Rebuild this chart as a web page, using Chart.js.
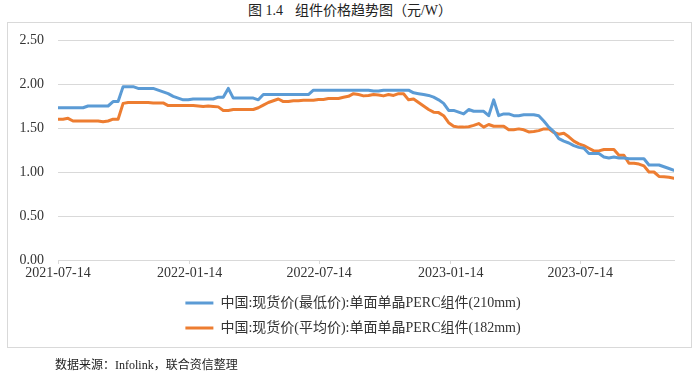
<!DOCTYPE html>
<html>
<head>
<meta charset="utf-8">
<script src="https://cdn.jsdelivr.net/npm/chart.js@4.4.1/dist/chart.umd.min.js"></script>
<style>
  html, body { margin: 0; padding: 0; background: #fff; }
  body { width: 700px; height: 375px; position: relative; overflow: hidden; }
  #title { position: absolute; left: 0; top: 3px; width: 700px; text-align: center;
           font: 14px 'Liberation Serif', 'Noto Sans CJK SC', serif; color: #222; line-height: 16px; }
  #title .gap { display: inline-block; width: 12px; }
  #frame { position: absolute; left: 7px; top: 22px; width: 685px; height: 326px;
           box-sizing: border-box; border: 1px solid #d9d9d9; }
  #wrap { position: absolute; left: 0; top: 0; width: 700px; height: 375px; }
  #source { position: absolute; left: 55px; top: 358px; font: 12px 'Liberation Serif', 'Noto Sans CJK SC', serif;
            color: #222; line-height: 15px; }
</style>
</head>
<body>
<div id="title">图 1.4<span class="gap"></span>组件价格趋势图（元/W）</div>
<div id="frame"></div>
<div id="wrap"><canvas id="c" width="700" height="375"></canvas></div>
<div id="source">数据来源：Infolink，联合资信整理</div>
<script>
// Weekly observations starting 2021-07-14 (one value per week)
const seriesNames = [
  '中国:现货价(最低价):单面单晶PERC组件(210mm)',
  '中国:现货价(平均价):单面单晶PERC组件(182mm)'
];
const minPrice210 = [
  1.73,1.73,1.73,1.73,1.73,1.73,1.75,1.75,1.75,1.75,
  1.75,1.80,1.80,1.97,1.97,1.97,1.95,1.95,1.95,1.95,
  1.93,1.91,1.89,1.86,1.84,1.82,1.82,1.83,1.83,1.83,
  1.83,1.83,1.85,1.85,1.95,1.84,1.84,1.84,1.84,1.84,
  1.82,1.88,1.88,1.88,1.88,1.88,1.88,1.88,1.88,1.88,
  1.88,1.93,1.93,1.93,1.93,1.93,1.93,1.93,1.93,1.93,
  1.93,1.93,1.93,1.92,1.92,1.93,1.93,1.93,1.93,1.93,
  1.93,1.90,1.89,1.88,1.87,1.85,1.82,1.78,1.70,1.70,
  1.68,1.66,1.71,1.69,1.69,1.69,1.64,1.82,1.64,1.66,
  1.66,1.64,1.64,1.65,1.65,1.65,1.64,1.58,1.51,1.46,
  1.38,1.35,1.33,1.30,1.28,1.27,1.21,1.21,1.21,1.17,
  1.16,1.17,1.16,1.16,1.15,1.15,1.15,1.15,1.08,1.08,
  1.08,1.06,1.04,1.02
];
const avgPrice182 = [
  1.60,1.60,1.61,1.58,1.58,1.58,1.58,1.58,1.58,1.57,
  1.58,1.60,1.60,1.78,1.79,1.79,1.79,1.79,1.79,1.785,
  1.785,1.785,1.755,1.755,1.755,1.755,1.755,1.755,1.75,1.745,
  1.75,1.745,1.74,1.70,1.70,1.71,1.71,1.71,1.71,1.71,
  1.73,1.76,1.79,1.81,1.83,1.80,1.80,1.81,1.81,1.815,
  1.815,1.815,1.825,1.825,1.835,1.835,1.835,1.85,1.86,1.89,
  1.88,1.865,1.87,1.88,1.875,1.865,1.88,1.87,1.89,1.89,
  1.82,1.83,1.79,1.75,1.71,1.68,1.675,1.64,1.56,1.52,
  1.51,1.51,1.515,1.53,1.55,1.51,1.54,1.52,1.52,1.52,
  1.48,1.48,1.49,1.48,1.455,1.46,1.47,1.49,1.49,1.45,
  1.43,1.44,1.40,1.35,1.32,1.30,1.27,1.24,1.24,1.255,
  1.255,1.255,1.19,1.19,1.10,1.10,1.09,1.07,1.00,1.00,
  0.95,0.945,0.94,0.93
];
// x-axis tick labels and their offsets in days from 2021-07-14
const tickLabels = ['2021-07-14','2022-01-14','2022-07-14','2023-01-14','2023-07-14'];
const tickDays = [0, 184, 365, 549, 730];
const yTicks = [0, 0.5, 1.0, 1.5, 2.0, 2.5];

const toPoints = arr => arr.map((v, i) => ({ x: i * 7, y: v }));
const serif = "'Liberation Serif', 'Noto Sans CJK SC', serif";

// nudge the legend so it is centred on the page rather than on the padded area
const legendShift = {
  id: 'legendShift',
  afterLayout(chart) {
    const lg = chart.legend;
    if (lg) { lg.left += 16; lg.right += 16; }
  }
};

new Chart(document.getElementById('c'), {
  type: 'line',
  plugins: [legendShift],
  data: {
    datasets: [
      { label: seriesNames[0], data: toPoints(minPrice210), borderColor: '#5b9bd5', backgroundColor: '#5b9bd5',
        borderWidth: 3, pointRadius: 0, tension: 0, borderJoinStyle: 'round', borderCapStyle: 'round' },
      { label: seriesNames[1], data: toPoints(avgPrice182), borderColor: '#ed7d31', backgroundColor: '#ed7d31',
        borderWidth: 3, pointRadius: 0, tension: 0, borderJoinStyle: 'round', borderCapStyle: 'round' }
    ]
  },
  options: {
    responsive: false,
    animation: false,
    layout: { padding: { top: 40, right: 26, bottom: 30, left: 0 } },
    plugins: {
      tooltip: { enabled: false },
      legend: {
        position: 'bottom',
        align: 'center',
        maxWidth: 400,
        labels: {
          usePointStyle: true,
          pointStyle: 'line',
          pointStyleWidth: 28,
          padding: 11,
          color: '#333',
          font: { family: serif, size: 14 }
        }
      }
    },
    scales: {
      x: {
        type: 'linear',
        min: 0,
        max: (minPrice210.length - 1) * 7,
        afterBuildTicks: s => { s.ticks = tickDays.map(v => ({ value: v })); },
        afterFit: s => { s.height = 25; },
        ticks: {
          autoSkip: false, maxRotation: 0, padding: 1, color: '#333',
          font: { family: serif, size: 14 },
          callback: v => { const i = tickDays.indexOf(v); return i >= 0 ? tickLabels[i] : ''; }
        },
        grid: { drawOnChartArea: false, drawTicks: true, tickLength: 4, color: '#d9d9d9' },
        border: { display: true, color: '#d9d9d9', width: 1 }
      },
      y: {
        min: 0, max: 2.5,
        afterBuildTicks: s => { s.ticks = yTicks.map(v => ({ value: v })); },
        afterFit: s => { s.width = 58; },
        ticks: {
          padding: 14, color: '#333',
          font: { family: serif, size: 14 },
          callback: v => Number(v).toFixed(2)
        },
        grid: { drawTicks: false, color: '#d9d9d9', lineWidth: 1 },
        border: { display: false }
      }
    }
  }
});
</script>
</body>
</html>
